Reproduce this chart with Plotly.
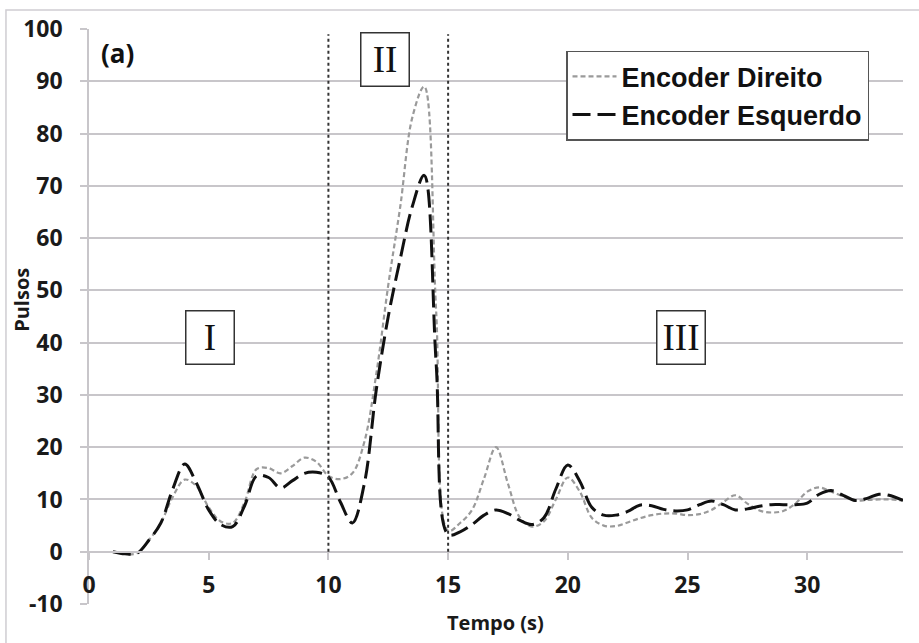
import plotly.graph_objects as go

# ---- data ----
time_s = [1.0, 1.5, 2.0, 2.5, 3.0, 3.5, 4.0, 4.5, 5.0, 5.5, 6.0, 6.5, 7.0, 7.5, 8.0, 8.5,
          9.0, 9.5, 10.0, 10.5, 11.0, 11.5, 12.0, 12.5, 13.0, 13.5, 14.0, 14.5, 15.0, 15.5,
          16.0, 16.5, 17.0, 17.5, 18.0, 18.5, 19.0, 19.5, 20.0, 20.5, 21.0, 21.5, 22.0, 22.5,
          23.0, 23.5, 24.0, 24.5, 25.0, 25.5, 26.0, 26.5, 27.0, 27.5, 28.0, 28.5, 29.0, 29.5,
          30.0, 30.5, 31.0, 31.5, 32.0, 32.5, 33.0, 33.5, 34.0]

encoder_direito = [0, -0.4, -0.3, 2.2, 5.5, 10.5, 13.8, 12.5, 8.5, 5.8, 5.5, 9.5, 15.8, 16.0, 15.0, 16.4,
                   18.0, 17.2, 14.5, 13.9, 15.0, 21.0, 34.0, 51.0, 66.0, 83.0, 89.0, 46.0, 4.0, 5.5,
                   8.0, 14.0, 20.0, 13.0, 6.5, 4.8, 5.8, 10.0, 14.2, 11.5, 6.5, 5.0, 4.9, 5.6,
                   6.4, 7.0, 7.3, 7.3, 7.0, 7.2, 8.0, 9.5, 10.8, 9.2, 7.9, 7.5, 7.8, 9.2,
                   11.5, 12.3, 11.5, 10.6, 9.8, 9.9, 10.0, 10.0, 9.8]

encoder_esquerdo = [0, -0.4, -0.3, 2.2, 5.5, 12.0, 16.8, 13.0, 8.0, 5.2, 4.8, 8.8, 14.5, 14.2, 12.2, 13.6,
                    15.0, 15.2, 14.3, 9.5, 5.5, 13.0, 31.0, 45.0, 56.0, 66.0, 72.0, 36.0, 3.3, 3.8,
                    5.2, 7.0, 8.0, 7.3, 6.0, 5.2, 6.5, 12.0, 16.6, 13.5, 8.5, 7.0, 7.0, 7.7,
                    8.9, 8.8, 8.1, 7.8, 8.0, 9.0, 9.7, 9.0, 8.0, 8.2, 8.7, 9.0, 9.0, 9.0,
                    9.3, 11.0, 11.7, 10.8, 9.8, 10.2, 11.0, 10.7, 9.8]

series_names = ["Encoder Direito", "Encoder Esquerdo"]
y_ticks = [-10, 0, 10, 20, 30, 40, 50, 60, 70, 80, 90, 100]
y_tick_text = ["-10", "0", "10", "20", "30", "40", "50", "60", "70", "80", "90", "100"]
x_ticks = [0, 5, 10, 15, 20, 25, 30]
phase_bounds = [10, 15]
phase_labels = ["I", "II", "III"]
phase_label_pos = [(5.04, 41.0), (12.35, 94.1), (24.74, 41.0)]

GRID = "#c8c6ca"
TICKFONT = dict(family="Open Sans", size=23, color="#1a1a1a", weight="bold")

fig = go.Figure()
fig.add_trace(go.Scatter(
    x=time_s, y=encoder_direito, name=series_names[0], mode="lines",
    line=dict(color="#9a9a9a", width=2.2, dash="5px,3px", shape="spline", smoothing=1.0),
))
fig.add_trace(go.Scatter(
    x=time_s, y=encoder_esquerdo, name=series_names[1], mode="lines",
    line=dict(color="#111111", width=3, dash="18px,7px", shape="spline", smoothing=1.0),
))

shapes = []
for xb in phase_bounds:
    shapes.append(dict(type="line", xref="x", yref="y", x0=xb, x1=xb, y0=0, y1=99,
                       line=dict(color="#333333", width=2, dash="dot")))
# outer frame
shapes.append(dict(type="rect", xref="paper", yref="paper", x0=-0.102, x1=1.05, y0=-0.09, y1=1.033,
                   line=dict(color="#cfcdd2", width=1.5), layer="below"))

annotations = []
for lab, (ax, ay) in zip(phase_labels, phase_label_pos):
    annotations.append(dict(x=ax, y=ay, xref="x", yref="y", text=lab, showarrow=False,
                            xanchor="center", yanchor="middle",
                            font=dict(family="Liberation Serif", size=37, color="#111111"),
                            width=45, height=50, borderpad=1, borderwidth=1.5,
                            bordercolor="#333333", bgcolor="white", align="center",
                            valign="middle"))
annotations.append(dict(x=1.21, y=95.4, xref="x", yref="y", text="(a)", showarrow=False,
                        xanchor="center", yanchor="middle",
                        font=dict(family="Open Sans", size=26, color="#111111", weight="bold")))
annotations.append(dict(x=-0.0823, y=0.529, xref="paper", yref="paper", text="Pulsos",
                        showarrow=False, textangle=-90, xanchor="center", yanchor="middle",
                        font=dict(family="Open Sans", size=20, color="#1a1a1a", weight="bold")))
annotations.append(dict(x=0.4988, y=-0.033, xref="paper", yref="paper", text="Tempo (s)",
                        showarrow=False, xanchor="center", yanchor="middle",
                        font=dict(family="Open Sans", size=20, color="#1a1a1a", weight="bold")))

fig.update_layout(
    width=919, height=643,
    margin=dict(l=89, r=16, t=26, b=39),
    paper_bgcolor="white", plot_bgcolor="white",
    shapes=shapes, annotations=annotations,
    showlegend=True,
    legend=dict(x=0.586, y=0.962, xanchor="left", yanchor="top",
                bgcolor="white", bordercolor="#555555", borderwidth=1.5,
                font=dict(family="Liberation Sans", size=27, color="#111111", weight="bold"),
                tracegroupgap=0, itemwidth=44),
    xaxis=dict(range=[0, 34], tickvals=x_ticks, showgrid=False, zeroline=False,
               anchor="free", position=10 / 110, showline=True, linecolor=GRID, linewidth=1.5,
               ticks="outside", ticklen=8, tickcolor=GRID, tickwidth=1.5,
               tickfont=TICKFONT, ticklabelstandoff=5),
    yaxis=dict(range=[-10, 100], tickvals=y_ticks, ticktext=y_tick_text,
               showgrid=True, gridcolor=GRID, gridwidth=1.5,
               zeroline=False, showline=True, linecolor=GRID, linewidth=1.5,
               ticks="outside", ticklen=7, tickcolor=GRID, tickwidth=1.5,
               tickfont=TICKFONT, ticklabelstandoff=13),
)

fig.write_html("out.html", config={"displayModeBar": False},
               post_script="document.body.style.margin='0px';")
